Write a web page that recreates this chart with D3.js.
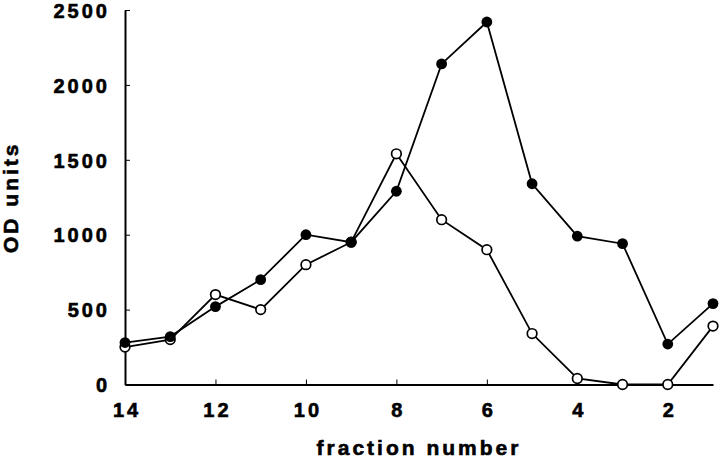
<!DOCTYPE html>
<html>
<head>
<meta charset="utf-8">
<script src="https://cdn.jsdelivr.net/npm/d3@7"></script>
<style>
  body { margin: 0; background: #fff; }
  text { font-family: "Liberation Sans", Arial, sans-serif; font-weight: bold; fill: #000;
         stroke: #000; stroke-width: 0.6px; }
</style>
</head>
<body>
<div id="chart"></div>
<script>
// data
var fractions = [14, 13, 12, 11, 10, 9, 8, 7, 6, 5, 4, 3, 2, 1];
var filledValues = [280, 320, 520, 700, 1000, 950, 1290, 2140, 2420, 1340, 990, 940, 270, 540];
var openValues = [250, 300, 600, 500, 800, 950, 1540, 1100, 900, 340, 40, 0, 0, 390];
var xTicks = [14, 12, 10, 8, 6, 4, 2];
var yTicks = [0, 500, 1000, 1500, 2000, 2500];

var W = 720, H = 458;
var plotL = 125, plotR = 713, plotT = 10, plotB = 384.5;

var svg = d3.select("#chart").append("svg")
    .attr("width", W)
    .attr("height", H);

var x = d3.scaleLinear().domain([14, 1]).range([plotL, plotR]);
var y = d3.scaleLinear().domain([0, 2500]).range([plotB, plotT]);

// axes, ticks pointing inward
var xAxis = svg.append("g")
    .attr("transform", "translate(0," + plotB + ")")
    .call(d3.axisBottom(x).tickValues(xTicks).tickSize(-5).tickSizeOuter(0).tickPadding(26)
        .tickFormat(d3.format("d")));

var yAxis = svg.append("g")
    .attr("transform", "translate(" + plotL + ",0)")
    .call(d3.axisLeft(y).tickValues(yTicks).tickSize(-5).tickSizeOuter(0).tickPadding(15)
        .tickFormat(d3.format("d")));

[xAxis, yAxis].forEach(function(a) {
    a.select(".domain").attr("stroke", "#000").attr("stroke-width", 2);
    a.selectAll(".tick line").attr("stroke", "#000").attr("stroke-width", 1);
    a.selectAll(".tick text")
        .style("font-size", "20px")
        .style("letter-spacing", "3px")
        .attr("fill", "#000");
});
xAxis.selectAll(".tick text").attr("dy", null).attr("y", 32).attr("dx", "1.5px");
yAxis.selectAll(".tick text").attr("dy", "0.36em");

// axis titles
svg.append("text")
    .attr("x", (plotL + plotR) / 2)
    .attr("y", 455)
    .attr("text-anchor", "middle")
    .style("font-size", "21px")
    .style("letter-spacing", "3px")
    .text("fraction number");

svg.append("text")
    .attr("transform", "translate(18," + ((plotT + plotB) / 2) + ") rotate(-90)")
    .attr("text-anchor", "middle")
    .style("font-size", "21px")
    .style("letter-spacing", "3px")
    .text("OD units");

var line = d3.line()
    .x(function(d) { return x(d[0]); })
    .y(function(d) { return y(d[1]); });

var openData = fractions.map(function(f, i) { return [f, openValues[i]]; });
var filledData = fractions.map(function(f, i) { return [f, filledValues[i]]; });

svg.append("path")
    .datum(openData)
    .attr("d", line)
    .attr("fill", "none")
    .attr("stroke", "#000")
    .attr("stroke-width", 1.8);

svg.append("path")
    .datum(filledData)
    .attr("d", line)
    .attr("fill", "none")
    .attr("stroke", "#000")
    .attr("stroke-width", 1.8);

svg.selectAll(".open")
    .data(openData)
    .enter()
    .append("circle")
    .attr("class", "open")
    .attr("cx", function(d) { return x(d[0]); })
    .attr("cy", function(d) { return y(d[1]); })
    .attr("r", 4.8)
    .attr("fill", "#fff")
    .attr("stroke", "#000")
    .attr("stroke-width", 1.7);

svg.selectAll(".filled")
    .data(filledData)
    .enter()
    .append("circle")
    .attr("class", "filled")
    .attr("cx", function(d) { return x(d[0]); })
    .attr("cy", function(d) { return y(d[1]); })
    .attr("r", 5.4)
    .attr("fill", "#000");
</script>
</body>
</html>
